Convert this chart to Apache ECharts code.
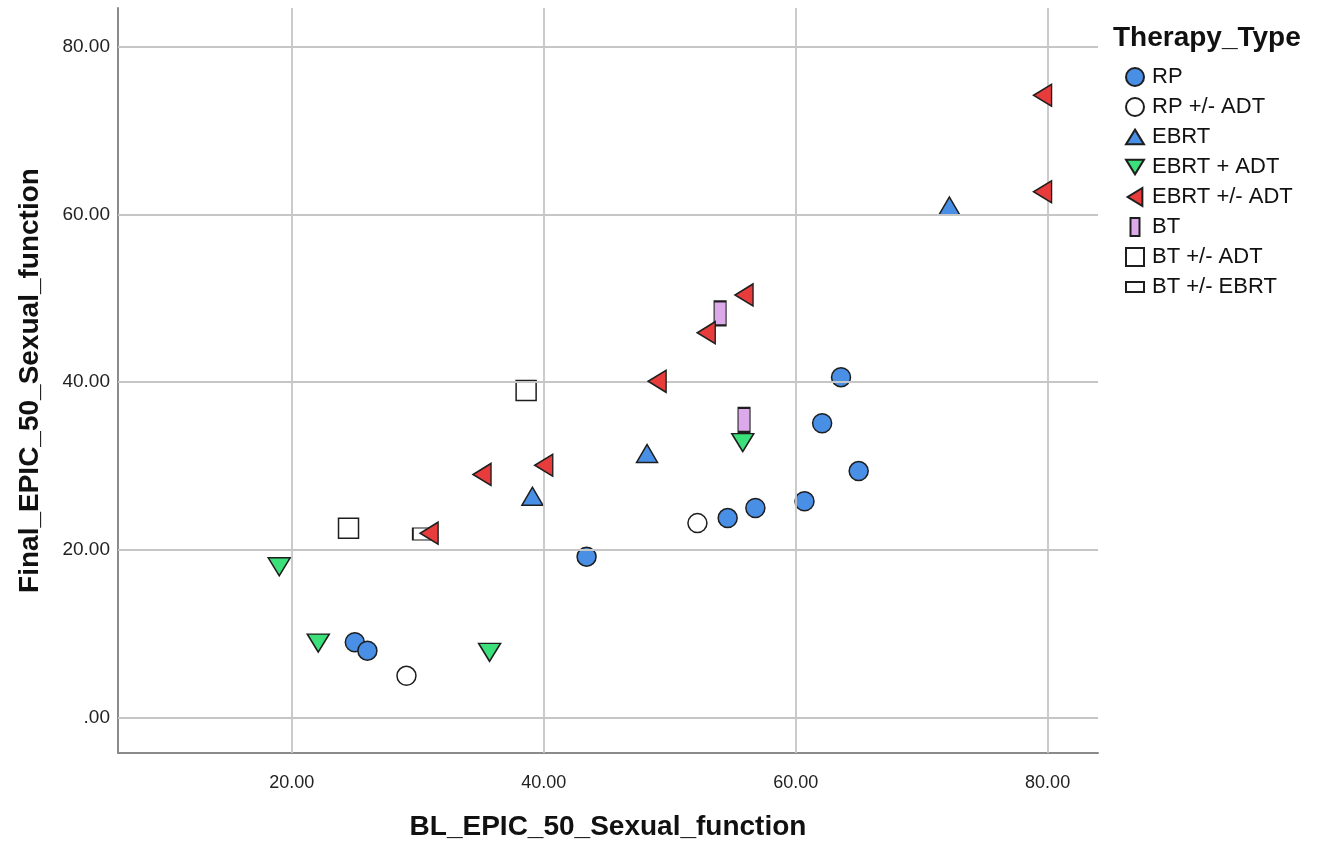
<!DOCTYPE html>
<html>
<head>
<meta charset="utf-8">
<script src="https://cdn.jsdelivr.net/npm/echarts@6/dist/echarts.min.js"></script>
<style>html,body{margin:0;padding:0;background:#fff}#c{width:1322px;height:847px}</style>
</head>
<body>
<div id="c"></div>
<script>
// ---- data (x = BL_EPIC_50_Sexual_function, y = Final_EPIC_50_Sexual_function)
const categories = ['RP', 'RP +/- ADT', 'EBRT', 'EBRT + ADT', 'EBRT +/- ADT', 'BT', 'BT +/- ADT', 'BT +/- EBRT'];
const RP = [[25.0, 9.0], [26.0, 8.0], [43.4, 19.2], [54.6, 23.8], [56.8, 25.0], [60.7, 25.8], [62.1, 35.1], [63.6, 40.6], [65.0, 29.4]];
const RP_ADT = [[29.1, 5.0], [52.2, 23.2]];
const EBRT = [[39.1, 26.4], [48.2, 31.5], [72.2, 61.0]];
const EBRT_plus_ADT = [[19.0, 18.0], [22.1, 8.9], [35.7, 7.8], [55.8, 32.8]];
const EBRT_ADT = [[79.6, 74.2], [79.6, 62.7], [55.9, 50.4], [52.9, 45.9], [49.0, 40.1], [40.0, 30.1], [35.1, 29.0], [30.9, 22.0]];
const BT = [[54.0, 48.2], [55.9, 35.5]];
const BT_ADT = [[38.6, 39.0], [24.5, 22.6]];
const BT_EBRT = [[30.4, 21.9]];
const xTicks = [20, 40, 60, 80];
const yTicks = [0, 20, 40, 60, 80];

const seriesData = [RP, RP_ADT, EBRT, EBRT_plus_ADT, EBRT_ADT, BT, BT_ADT, BT_EBRT];
const styles = [
  {symbol: 'circle', size: 19, rot: 0, color: '#4a8fe6', z: 3},
  {symbol: 'circle', size: 19, rot: 0, color: '#ffffff', z: 3},
  {symbol: 'triangle', size: [21, 18], rot: 0, color: '#4a8fe6', z: 3},
  {symbol: 'triangle', size: [22, 18], rot: 180, color: '#3be07a', z: 4},
  {symbol: 'triangle', size: [22, 18], rot: 90, color: '#e83c3c', z: 5},
  {symbol: 'rect', size: [12, 24], rot: 0, color: '#dcaaea', z: 3},
  {symbol: 'rect', size: [20, 20], rot: 0, color: '#ffffff', z: 3},
  {symbol: 'rect', size: [20, 12], rot: 0, color: '#ffffff', z: 3}
];
const legendIcons = ['circle', 'circle',
  'path://M11,0L22,18L0,18Z', 'path://M0,0L22,0L11,18Z', 'path://M18,0L18,22L0,11Z',
  'path://M0,0h10v20h-10z', 'path://M0,0h17v17h-17z', 'path://M0,0h20v11h-20z'];

const gridLines = xTicks.map(v => ({xAxis: v})).concat(yTicks.map(v => ({yAxis: v})));

const series = [{
  type: 'scatter', data: [], z: 1, silent: true,
  markLine: {silent: true, symbol: 'none', label: {show: false}, animation: false,
    lineStyle: {color: '#c6c6c6', width: 1.8, type: 'solid'}, emphasis: {disabled: true}, data: gridLines}
}].concat(categories.map((name, i) => ({
  name: name, type: 'scatter', z: styles[i].z, data: seriesData[i],
  symbol: styles[i].symbol, symbolSize: styles[i].size, symbolRotate: styles[i].rot,
  itemStyle: {color: styles[i].color, borderColor: '#1e1e1e', borderWidth: 1.5, opacity: 1}
})));

const fmt = v => {
  if (Math.abs(v % 20) > 1e-9) return '';
  return v === 0 ? '.00' : v.toFixed(2);
};

const chart = echarts.init(document.getElementById('c'));
chart.setOption({
  animation: false,
  backgroundColor: '#ffffff',
  title: {text: 'Therapy_Type', left: 1108, top: 19,
    textStyle: {fontFamily: 'Liberation Sans', fontWeight: 'bold', fontSize: 28, color: '#111'}},
  legend: {
    orient: 'vertical', left: 1125, top: 66, padding: 0, itemWidth: 18, itemHeight: 18, itemGap: 8,
    data: categories.map((n, i) => ({name: n, icon: legendIcons[i]})),
    textStyle: {fontFamily: 'Liberation Sans', fontSize: 22, lineHeight: 22, color: '#111', padding: [0, 0, 0, 3]},
    selectedMode: false
  },
  grid: {left: 118, right: 224, top: 8, bottom: 94, containLabel: false},
  xAxis: {
    type: 'value', min: 6.2, max: 84,
    name: 'BL_EPIC_50_Sexual_function', nameLocation: 'middle', nameGap: 60,
    nameTextStyle: {fontFamily: 'Liberation Sans', fontWeight: 'bold', fontSize: 28, color: '#111'},
    axisLine: {show: true, onZero: false, lineStyle: {color: '#8a8a8a', width: 2}},
    axisTick: {show: false}, splitLine: {show: false},
    axisLabel: {formatter: fmt, margin: 21, fontFamily: 'Liberation Sans', fontSize: 18, color: '#222',
      showMinLabel: false, showMaxLabel: false}
  },
  yAxis: {
    type: 'value', min: -4.2, max: 84.6,
    name: 'Final_EPIC_50_Sexual_function', nameLocation: 'middle', nameGap: 74,
    nameTextStyle: {fontFamily: 'Liberation Sans', fontWeight: 'bold', fontSize: 28, color: '#111'},
    axisLine: {show: true, onZero: false, lineStyle: {color: '#8a8a8a', width: 2}},
    axisTick: {show: false}, splitLine: {show: false},
    axisLabel: {formatter: fmt, margin: 8, fontFamily: 'Liberation Sans', fontSize: 19, color: '#222',
      showMinLabel: false, showMaxLabel: false}
  },
  series: series
});
</script>
</body>
</html>
